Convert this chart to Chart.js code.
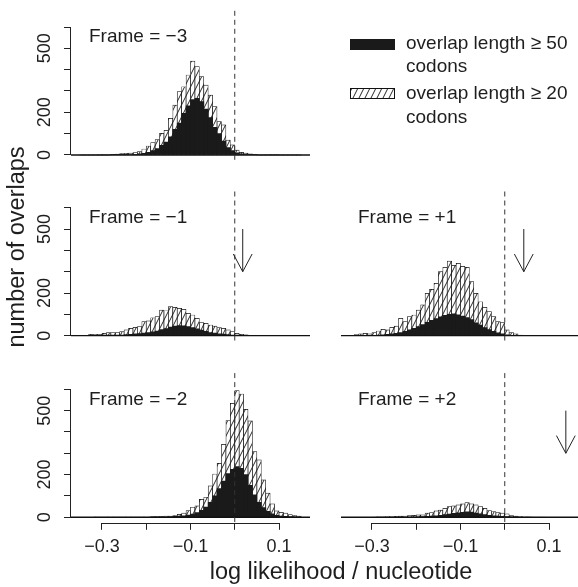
<!DOCTYPE html>
<html><head><meta charset="utf-8">
<script src="https://cdn.jsdelivr.net/npm/chart.js@4/dist/chart.umd.min.js"></script>
<style>
html,body{margin:0;padding:0;background:#fff;overflow:hidden;}
#wrap{position:relative;width:578px;height:587px;background:#fff;}
canvas{position:absolute;left:0;top:0;}
</style></head><body>
<div id="wrap">
<canvas id="c0" width="578" height="587"></canvas>
<canvas id="c1" width="578" height="587"></canvas>
<canvas id="c2" width="578" height="587"></canvas>
<canvas id="c3" width="578" height="587"></canvas>
<canvas id="c4" width="578" height="587"></canvas>
</div>
<script>
// ---- bins (left edges, width 0.01) ----
const binWidth = 0.01;
const binLeftEdges = [-0.35,-0.34,-0.33,-0.32,-0.31,-0.30,-0.29,-0.28,-0.27,-0.26,
  -0.25,-0.24,-0.23,-0.22,-0.21,-0.20,-0.19,-0.18,-0.17,-0.16,
  -0.15,-0.14,-0.13,-0.12,-0.11,-0.10,-0.09,-0.08,-0.07,-0.06,
  -0.05,-0.04,-0.03,-0.02,-0.01,0.00,0.01,0.02,0.03,0.04,
  0.05,0.06,0.07,0.08,0.09,0.10,0.11,0.12,0.13,0.14];

// ---- counts: overlap length >= 20 codons (hatched) and >= 50 codons (black) ----
const frameM3_len20 = [0,0,0,0,1,1,2,3,4,6, 8,9,11,16,28,42,58,72,101,115, 172,234,297,320,375,440,414,367,328,281, 227,156,141,70,47,23,12,9,5,3, 2,2,1,1,1,0,0,0,0,0];
const frameM3_len50 = [0,0,0,0,0,0,0,1,1,1, 1,2,3,5,8,12,20,30,45,60, 85,120,150,195,230,260,265,250,215,175, 130,100,65,35,20,10,5,3,1,1, 0,0,0,0,0,0,0,0,0,0];
const frameM1_len20 = [1,2,6,5,6,11,14,14,14,19, 27,34,39,42,66,69,84,89,120,117, 136,133,128,123,105,97,81,61,58,50, 45,38,34,27,19,11,6,3,1,1, 0,0,0,0,0,0,0,0,0,0];
const frameM1_len50 = [0,0,1,1,1,1,1,2,2,3, 5,6,8,10,12,15,18,22,28,33, 40,45,47,46,42,38,32,26,20,15, 12,9,7,5,3,2,1,1,0,0, 0,0,0,0,0,0,0,0,0,0];
const frameP1_len20 = [2,5,8,11,8,14,22,30,27,39, 45,81,66,89,97,120,144,198,217,245, 300,320,350,330,339,325,320,253,198,159, 133,113,89,66,61,27,14,8,3,1, 0,0,0,0,0,0,0,0,0,0];
const frameP1_len50 = [0,0,0,1,1,2,3,4,6,8, 11,15,20,27,34,42,52,62,72,80, 88,95,100,102,98,92,85,75,60,50, 38,28,20,13,8,4,2,1,0,0, 0,0,0,0,0,0,0,0,0,0];
const frameM2_len20 = [0,0,0,1,1,1,1,1,1,1, 1,1,1,2,2,2,3,3,4,5, 6,8,14,19,31,47,53,84,94,147, 203,253,342,453,534,594,578,506,452,308, 269,175,113,63,30,23,19,12,8,5];
const frameM2_len50 = [0,0,0,0,0,0,0,0,0,0, 0,0,0,0,0,0,1,1,2,2, 3,4,5,7,10,15,22,33,48,70, 100,135,170,205,225,238,230,200,150,105, 70,45,28,16,9,6,4,3,2,1];
const frameP2_len20 = [0,0,0,0,0,1,2,2,3,3, 4,5,6,8,9,11,11,19,22,30, 34,42,50,53,58,63,69,63,58,50, 42,31,27,22,19,16,8,5,3,2, 2,1,1,1,0,0,0,0,0,0];
const frameP2_len50 = [0,0,0,0,0,0,0,0,0,0, 0,1,1,1,1,2,3,4,5,7, 9,12,15,18,21,23,25,24,20,16, 12,9,7,5,4,3,2,1,0,0, 0,0,0,0,0,0,0,0,0,0];

// ---- labels / ticks ----
const frameLabels = ['Frame = \u22123', 'Frame = \u22121', 'Frame = +1', 'Frame = \u22122', 'Frame = +2'];
const legendLines = [['overlap length \u2265 50', 'codons'], ['overlap length \u2265 20', 'codons']];
const yTickValues = [0, 100, 200, 300, 400, 500, 600];
const yTickLabels = ['0', '', '200', '', '', '500', ''];
const xTickValues = [-0.3, -0.2, -0.1, 0, 0.1];
const xTickLabels = ['\u22120.3', '', '\u22120.1', '', '0.1'];
const yTitle = 'number of overlaps';
const xTitle = 'log likelihood / nucleotide';
// arrows (x position, from / to counts)
const arrowXm1 = 0.018, arrowXp1 = 0.043, arrowXp2 = 0.138;
const arrowFrom = 500, arrowTo = 300;

const FONT = '"Liberation Sans", Arial, Helvetica, sans-serif';
const INK = '#1e1e1e';

function makeHatch(ctx) {
  const c = document.createElement('canvas'); c.width = 6; c.height = 12;
  const g = c.getContext('2d');
  g.fillStyle = '#fff'; g.fillRect(0, 0, 6, 12);
  g.strokeStyle = '#111'; g.lineWidth = 0.9;
  for (const k of [-1, 0, 1]) {
    g.beginPath(); g.moveTo(-1 + 6 * k, 14); g.lineTo(7 + 6 * k, -2); g.stroke();
  }
  return ctx.createPattern(c, 'repeat');
}

const panels = [
  {id: 'c0', label: frameLabels[0], h20: frameM3_len20, h50: frameM3_len50, left: 71, right: 310, top: 10.8, bottom: 160.5, xmax: 0.17, yAxis: true, xAxis: false, arrow: null, labelDx: 18},
  {id: 'c1', label: frameLabels[1], h20: frameM1_len20, h50: frameM1_len50, left: 71, right: 310, top: 191.5, bottom: 341.2, xmax: 0.17, yAxis: true, xAxis: false, arrow: arrowXm1, labelDx: 18},
  {id: 'c2', label: frameLabels[2], h20: frameP1_len20, h50: frameP1_len50, left: 341, right: 578, top: 191.5, bottom: 341.2, xmax: 0.1655, yAxis: false, xAxis: false, arrow: arrowXp1, labelDx: 17},
  {id: 'c3', label: frameLabels[3], h20: frameM2_len20, h50: frameM2_len50, left: 71, right: 310, top: 373.1, bottom: 522.8, xmax: 0.17, yAxis: true, xAxis: true, arrow: null, labelDx: 18},
  {id: 'c4', label: frameLabels[4], h20: frameP2_len20, h50: frameP2_len50, left: 341, right: 578, top: 373.1, bottom: 522.8, xmax: 0.1655, yAxis: false, xAxis: true, arrow: arrowXp2, labelDx: 17}
];

function overlay(P) {
  return {
    id: 'overlay_' + P.id,
    afterDatasetsDraw(chart) {
      const {ctx, chartArea: a, scales: {x, y}} = chart;
      ctx.save();
      // zero baseline
      const y0 = y.getPixelForValue(0);
      ctx.strokeStyle = '#111'; ctx.lineWidth = 1.4;
      ctx.beginPath(); ctx.moveTo(a.left, y0); ctx.lineTo(a.right, y0); ctx.stroke();
      // dashed line at 0
      const x0 = x.getPixelForValue(0);
      ctx.setLineDash([5, 4]); ctx.lineWidth = 1; ctx.strokeStyle = '#333';
      ctx.beginPath(); ctx.moveTo(x0, a.top); ctx.lineTo(x0, a.bottom); ctx.stroke();
      ctx.setLineDash([]);
      // arrow
      if (P.arrow !== null) {
        const ax = x.getPixelForValue(P.arrow);
        const ya = y.getPixelForValue(arrowFrom), yb = y.getPixelForValue(arrowTo);
        const L = 20, ang = 28 * Math.PI / 180;
        ctx.strokeStyle = '#222'; ctx.lineWidth = 1;
        ctx.beginPath();
        ctx.moveTo(ax, ya); ctx.lineTo(ax, yb);
        ctx.moveTo(ax - L * Math.sin(ang), yb - L * Math.cos(ang)); ctx.lineTo(ax, yb);
        ctx.lineTo(ax + L * Math.sin(ang), yb - L * Math.cos(ang));
        ctx.stroke();
      }
      // panel label
      ctx.fillStyle = INK; ctx.font = '19px ' + FONT;
      ctx.textAlign = 'left'; ctx.textBaseline = 'alphabetic';
      ctx.fillText(P.label, a.left + P.labelDx, a.top + 31.5);
      // y axis line + labels
      ctx.strokeStyle = '#222'; ctx.lineWidth = 1;
      if (P.yAxis) {
        const xl = Math.round(a.left) - 0.5;
        ctx.beginPath();
        ctx.moveTo(xl, y.getPixelForValue(yTickValues[0]));
        ctx.lineTo(xl, y.getPixelForValue(yTickValues[yTickValues.length - 1]));
        ctx.stroke();
        ctx.font = '18px ' + FONT; ctx.textAlign = 'center'; ctx.textBaseline = 'middle';
        yTickValues.forEach((v, i) => {
          if (!yTickLabels[i]) return;
          ctx.save();
          ctx.translate(45, y.getPixelForValue(v));
          ctx.rotate(-Math.PI / 2);
          ctx.fillText(yTickLabels[i], 0, 0);
          ctx.restore();
        });
      }
      if (P.xAxis) {
        const yl = Math.round(a.bottom) + 0.5;
        ctx.beginPath();
        ctx.moveTo(x.getPixelForValue(xTickValues[0]), yl);
        ctx.lineTo(x.getPixelForValue(xTickValues[xTickValues.length - 1]), yl);
        ctx.stroke();
        ctx.font = '18px ' + FONT; ctx.textAlign = 'center'; ctx.textBaseline = 'middle';
        xTickValues.forEach((v, i) => {
          if (!xTickLabels[i]) return;
          ctx.fillText(xTickLabels[i], x.getPixelForValue(v), 547);
        });
      }
      ctx.restore();
    }
  };
}

const decorations = {
  id: 'decor',
  afterDraw(chart) {
    const ctx = chart.ctx;
    ctx.save();
    ctx.fillStyle = INK;
    ctx.font = '23.5px ' + FONT;
    ctx.textAlign = 'center'; ctx.textBaseline = 'alphabetic';
    ctx.save();
    ctx.translate(24, 247); ctx.rotate(-Math.PI / 2);
    ctx.fillText(yTitle, 0, 0);
    ctx.restore();
    ctx.fillText(xTitle, 341, 579);
    // legend
    const hatch = makeHatch(ctx);
    ctx.fillStyle = '#1a1a1a';
    ctx.fillRect(350, 39, 45, 11);
    ctx.fillStyle = hatch;
    ctx.fillRect(350, 88, 45, 11);
    ctx.strokeStyle = '#111'; ctx.lineWidth = 1;
    ctx.strokeRect(350.5, 88.5, 44, 10);
    ctx.fillStyle = INK; ctx.font = '19px ' + FONT; ctx.textAlign = 'left';
    ctx.fillText(legendLines[0][0], 406, 49);
    ctx.fillText(legendLines[0][1], 406, 72);
    ctx.fillText(legendLines[1][0], 406, 99);
    ctx.fillText(legendLines[1][1], 406, 123);
    ctx.restore();
  }
};

const binCenters = binLeftEdges.map(e => Math.round((e + binWidth / 2) * 10000) / 10000);

function makeChart(P, extraPlugins) {
  const canvas = document.getElementById(P.id);
  const hatch = makeHatch(canvas.getContext('2d'));
  const gridCfg = {display: true, drawOnChartArea: false, drawTicks: true, tickLength: 7, color: '#222', tickColor: '#222', lineWidth: 1, offset: false};
  return new Chart(canvas, {
    type: 'bar',
    data: {
      datasets: [
        {label: legendLines[0].join(' '), data: binCenters.map((c, i) => ({x: c, y: P.h50[i]})),
         backgroundColor: '#1a1a1a', borderColor: '#1a1a1a', borderWidth: 0,
         grouped: false, barPercentage: 1, categoryPercentage: 1},
        {label: legendLines[1].join(' '), data: binCenters.map((c, i) => ({x: c, y: P.h20[i]})),
         backgroundColor: hatch, borderColor: '#111', borderWidth: 0.7,
         grouped: false, barPercentage: 1, categoryPercentage: 1}
      ]
    },
    options: {
      responsive: false, animation: false, devicePixelRatio: 1,
      layout: {padding: {left: P.left, right: 578 - P.right, top: P.top, bottom: 587 - P.bottom}},
      plugins: {legend: {display: false}, tooltip: {enabled: false}, title: {display: false}},
      scales: {
        x: {
          type: 'linear', min: -0.37, max: P.xmax, offset: false, display: P.xAxis,
          afterBuildTicks: s => { s.ticks = xTickValues.map(v => ({value: v})); },
          afterFit: s => { s.height = 0; },
          grid: gridCfg, border: {display: false},
          ticks: {display: false}
        },
        y: {
          type: 'linear', min: -26, max: 676, display: P.yAxis,
          afterBuildTicks: s => { s.ticks = yTickValues.map(v => ({value: v})); },
          afterFit: s => { s.width = 0; },
          grid: gridCfg, border: {display: false},
          ticks: {display: false}
        }
      }
    },
    plugins: [overlay(P)].concat(extraPlugins || [])
  });
}

panels.forEach((P, i) => makeChart(P, i === 0 ? [decorations] : []));
</script>
</body></html>
